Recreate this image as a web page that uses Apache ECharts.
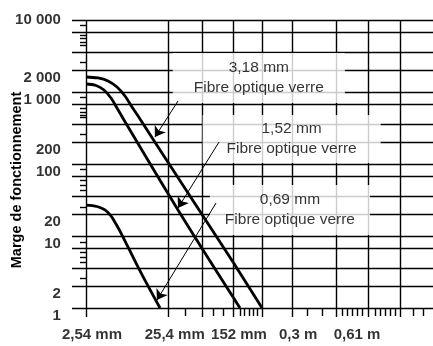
<!DOCTYPE html>
<html><head><meta charset="utf-8">
<script src="https://cdn.jsdelivr.net/npm/echarts@6/dist/echarts.min.js"></script>
<style>html,body{margin:0;padding:0;background:#fff}#c{width:433px;height:346px}</style>
</head><body><div id="c"></div><script>
// ================= DATA =================
// x in millimetres, y = "Marge de fonctionnement"
const curveNames = ['3,18 mm', '1,52 mm', '0,69 mm'];
const curve318Near = [[2.54,1616],[3.55,1565],[4.69,1422],[6.02,1173],[7.52,880],[9.14,619],[11.42,422],[19.93,156],[65.96,19.0],[152,4.35]];
const curve318Far  = [[152,4.35],[214,1]];
const curve152Near = [[2.54,1292],[3.36,1231],[4.19,1066],[5.09,825],[6.02,600],[7.31,408],[32.9,23.0],[152,1.42]];
const curve152Far  = [[152,1.42],[165,1]];
const curve069     = [[2.54,26.9],[3.45,25.7],[4.31,23.0],[5.09,19.0],[5.85,14.7],[6.73,11.0],[11.42,3.27],[19.93,1]];

const yTickValues = [1, 2, 10, 20, 100, 200, 1000, 2000, 10000];
const yTickLabels = ['1', '2', '10', '20', '100', '200', '1 000', '2 000', '10 000'];
const yGridValues = [1, 2, 3.6, 6.8, 10, 20, 36, 68, 100, 200, 360, 680, 1000, 2000, 3600, 6800, 10000];
const yMinorTicks = [2.6, 4.35, 5.1, 6.0, 8.25, 25, 43.5, 51, 60, 85, 261, 450, 480, 527, 600, 852, 2600, 4500, 4900, 5600, 6200, 8500];

const xTickValues = [2.54, 25.4, 152, 304.8, 609.6];
const xTickLabels = ['2,54 mm', '25,4 mm', '152 mm', '0,3 m', '0,61 m'];
const xGridValues = [2.54, 25.4, 64, 152, 214, 304.8, 511, 745, 1086];
const xMinorTicks = [40, 87, 115, 165, 173, 183, 192, 202, 363, 433, 548, 582, 617, 654, 694, 809, 858, 910, 965, 1023, 1265, 1423];

const annotTitles = ['3,18 mm', '1,52 mm', '0,69 mm'];
const annotSubtitle = 'Fibre optique verre';
const annotAnchors = [[206, 1565], [303, 222], [297, 23]];          // (mm, marge), far panel
const arrowStarts = [[32.9, 750], [103, 202], [94.7, 28.7]];          // near panel
const arrowTips   = [[17.3, 237], [32.9, 24.5], [18.3, 1.29]];

const nearRange = [2.54, 152];
const farRange  = [152, 1600];
const yRange    = [1, 10000];

// ================= CHART =================
const FONT = "'Liberation Sans', Arial, sans-serif";
const SPLIT = 152;
const LEFT_EXT = 1.72, TICK_IN = 2.15, BOTTOM_EXT = 0.75, BOTTOM_TICK = 0.774;
const seg = (x1, y1, x2, y2) => ({ coords: [[x1, y1], [x2, y2]] });

const nearLines = [], farLines = [];
yGridValues.forEach(v => { nearLines.push(seg(LEFT_EXT, v, SPLIT, v)); farLines.push(seg(SPLIT, v, farRange[1], v)); });
yMinorTicks.forEach(v => nearLines.push(seg(TICK_IN, v, nearRange[0], v)));
xGridValues.forEach(v => (v < SPLIT ? nearLines : farLines).push(seg(v, BOTTOM_EXT, v, yRange[1])));
xMinorTicks.forEach(v => (v < SPLIT ? nearLines : farLines).push(seg(v, BOTTOM_TICK, v, yRange[0])));

const gridLineSeries = (idx, data) => ({
  type: 'lines', coordinateSystem: 'cartesian2d', xAxisIndex: idx, yAxisIndex: idx,
  data, polyline: false, symbol: 'none', silent: true, clip: false, z: 1,
  lineStyle: { color: '#000', width: 1.4, opacity: 1 }
});
const curveSeries = (name, idx, data) => ({
  name, type: 'line', xAxisIndex: idx, yAxisIndex: idx, data, symbol: 'none', showSymbol: false,
  smooth: 0.35, clip: false, z: 4, silent: true,
  lineStyle: { color: '#000', width: 2.8 }
});
const hidden = { color: 'rgba(0,0,0,0)' };
const tickLabelStyle = { fontFamily: FONT, fontSize: 15, fontWeight: 'bold', color: '#000' };

const xNear = [], xFar = [];
xTickValues.forEach((v, i) => (v <= SPLIT ? xNear : xFar).push({ value: [v, yRange[0]], name: xTickLabels[i] }));
const xLabelSeries = (idx, data) => ({
  type: 'scatter', xAxisIndex: idx, yAxisIndex: idx, data, symbolSize: 0.1, itemStyle: hidden, silent: true, z: 2, clip: false,
  label: Object.assign({ show: true, position: 'bottom', distance: 19, offset: [6, 0], formatter: p => p.name }, tickLabelStyle)
});

const boxPadding = [[5, 21], [4, 24], [5, 15]];

const option = {
  animation: false,
  backgroundColor: '#fff',
  grid: [
    { left: 86, top: 20, width: 147, height: 288 },
    { left: 233, top: 20, width: 200, height: 288 }
  ],
  xAxis: [
    { gridIndex: 0, type: 'log', min: nearRange[0], max: nearRange[1], show: false },
    { gridIndex: 1, type: 'log', min: farRange[0], max: farRange[1], show: false }
  ],
  yAxis: [
    { gridIndex: 0, type: 'log', min: yRange[0], max: yRange[1],
      axisLine: { show: false }, axisTick: { show: false }, axisLabel: { show: false }, splitLine: { show: false },
      name: 'Marge de fonctionnement', nameLocation: 'middle', nameGap: 62, nameRotate: 90,
      nameTextStyle: { fontFamily: FONT, fontSize: 14.5, fontWeight: 'bold', color: '#000', padding: [0, 32, 0, 0] } },
    { gridIndex: 1, type: 'log', min: yRange[0], max: yRange[1], show: false }
  ],
  series: [
    gridLineSeries(0, nearLines),
    gridLineSeries(1, farLines),
    // y tick labels
    { type: 'scatter', xAxisIndex: 0, yAxisIndex: 0, symbolSize: 0.1, itemStyle: hidden, silent: true, z: 2, clip: false,
      data: yTickValues.map((v, i) => ({ value: [nearRange[0], v], name: yTickLabels[i],
        label: { offset: [0, v === yRange[1] ? 0 : 8] } })),
      label: Object.assign({ show: true, position: 'left', distance: 25, formatter: p => p.name }, tickLabelStyle) },
    xLabelSeries(0, xNear),
    xLabelSeries(1, xFar),
    // annotation boxes
    { type: 'scatter', xAxisIndex: 1, yAxisIndex: 1, symbolSize: 0.1, itemStyle: hidden, silent: true, z: 3, clip: false,
      data: annotAnchors.map((a, i) => ({ value: a, name: annotTitles[i] + '\n' + annotSubtitle,
        label: { padding: boxPadding[i] } })),
      label: { show: true, position: 'inside', formatter: p => p.name, backgroundColor: '#fff',
        fontFamily: FONT, fontSize: 15.5, lineHeight: 20, color: '#000', align: 'center' } },
    curveSeries(curveNames[0], 0, curve318Near),
    curveSeries(curveNames[0], 1, curve318Far),
    curveSeries(curveNames[1], 0, curve152Near),
    curveSeries(curveNames[1], 1, curve152Far),
    curveSeries(curveNames[2], 0, curve069),
    // arrows
    { type: 'lines', coordinateSystem: 'cartesian2d', xAxisIndex: 0, yAxisIndex: 0, silent: true, clip: false, z: 5,
      data: arrowStarts.map((s, i) => ({ coords: [s, arrowTips[i]] })),
      symbol: ['none', 'arrow'], symbolSize: 10,
      lineStyle: { color: '#000', width: 1, opacity: 1 }, itemStyle: { color: '#000' } }
  ]
};
const chart = echarts.init(document.getElementById('c'), null, { renderer: 'canvas' });
chart.setOption(option);
</script></body></html>
